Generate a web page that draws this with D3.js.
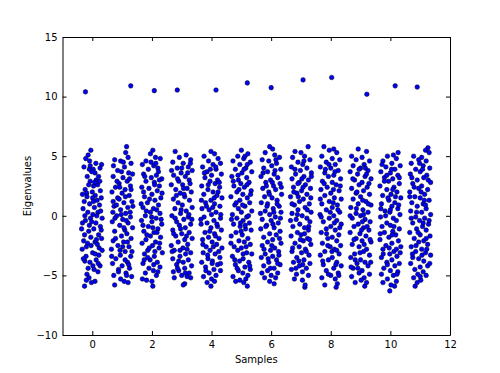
<!DOCTYPE html>
<html>
<head>
<meta charset="utf-8">
<script src="https://cdn.jsdelivr.net/npm/d3@7"></script>
<style>
  body { margin: 0; background: #fff; }
  svg { display: block; font-family: "DejaVu Sans", sans-serif; }
  .axis text { font-size: 10px; fill: #000; }
  .axis path, .axis line { stroke: #000; }
</style>
</head>
<body>
<div class="mainContent"></div>
<script>
const w = 500;
const h = 373;
const margin = {left: 62.5, right: 50, top: 37, bottom: 38};

// sample index of each cluster
const samples = [0, 1, 2, 3, 4, 5, 6, 7, 8, 9, 10, 11];
const xTicks = [0, 2, 4, 6, 8, 10, 12];
const yTicks = [-10, -5, 0, 5, 10, 15];

// the lone large eigenvalue of each sample: [x, value]
const outliers = [[-0.23,10.4],[1.29,10.9],[2.08,10.5],[2.85,10.55],[4.15,10.55],[5.2,11.15],
  [6.0,10.75],[7.07,11.4],[8.03,11.6],[9.21,10.2],[10.16,10.9],[10.9,10.8]];

// bulk eigenvalues per sample: [offset from sample index, value]
const s0 = [[-0.05,5.5],[-0.14,5.1],[-0.22,4.8],[-0.09,4.6],[-0.28,4.1],[0.31,4.3],[0.26,4.0],[0.03,3.9],[0.09,3.6],[-0.17,3.3],[-0.02,3.7],[0.13,3.0],[0.21,3.3],[-0.07,2.9],[0.18,2.6],[0.04,2.5],[-0.24,2.2],[-0.12,2.6],[-0.33,1.8],[-0.19,1.9],[0.27,2.1],[0.1,1.7],[0.16,1.3],[0.01,1.5],[-0.27,1.2],[0.24,0.9],[-0.09,1.0],[0.07,0.7],[-0.31,0.6],[-0.15,0.3],[0.19,0.3],[0.33,-0.2],[0.02,0.1],[-0.06,-0.2],[0.12,-0.6],[-0.23,-0.4],[0.27,-0.9],[-0.36,-1.1],[-0.12,-1.3],[0.05,-1.1],[0.21,-1.6],[0.31,-1.9],[-0.26,-1.6],[0.09,-2.2],[-0.04,-2.5],[0.23,-2.7],[-0.16,-2.3],[0.33,-2.9],[-0.34,-2.8],[0.01,-3.1],[-0.21,-3.4],[0.13,-3.7],[-0.08,-3.9],[0.26,-4.2],[-0.25,-3.8],[0.06,-4.5],[0.19,-4.7],[-0.18,-4.9],[-0.11,-5.2],[-0.26,-5.9],[0.09,-5.5],[-0.03,-5.6],[-0.2,-5.4],[0.14,-2.0],[-0.1,-0.8],[0.28,0.4],[-0.29,-2.1],[0.0,2.0],[0.22,-3.3],[-0.14,-4.4],[0.3,-1.2],[-0.02,-0.5],[0.15,0.0],[-0.25,0.0],[0.08,2.8],[-0.1,3.9],[0.2,-4.0],[0.1,-3.2],[-0.3,-3.6],[0.04,1.2],[-0.18,1.6],[0.25,2.9],[-0.05,-1.8],[0.17,-2.4],[-0.33,-0.6],[0.02,-4.2],[-0.07,4.2],[0.12,4.4],[-0.2,-2.6],[0.3,1.5]];
const s1 = [[0.15,5.8],[0.12,5.3],[0.2,4.9],[-0.25,4.7],[-0.05,4.6],[0.3,4.4],[0.08,4.1],[-0.15,3.8],[0.22,3.6],[0.35,3.5],[-0.3,3.3],[0.03,3.2],[0.17,2.9],[-0.1,2.7],[0.28,2.5],[-0.22,2.4],[0.1,2.2],[-0.34,2.0],[0.0,1.9],[0.24,1.7],[-0.15,1.5],[0.33,1.2],[0.06,1.1],[-0.27,0.8],[0.19,0.7],[-0.05,0.5],[-0.31,0.3],[0.12,0.2],[0.28,-0.1],[-0.18,0.0],[0.02,-0.3],[-0.33,-0.5],[0.2,-0.6],[-0.08,-0.8],[0.35,-1.0],[0.09,-1.2],[-0.25,-1.3],[0.16,-1.5],[-0.02,-1.7],[0.3,-1.9],[-0.3,-2.1],[0.05,-2.2],[-0.14,-2.5],[0.23,-2.6],[-0.36,-2.8],[0.1,-3.0],[-0.06,-3.3],[0.29,-3.4],[-0.21,-3.6],[0.18,-3.9],[-0.32,-4.0],[0.0,-4.2],[0.25,-4.4],[-0.12,-4.5],[0.13,-4.8],[-0.28,-5.0],[0.32,-5.1],[-0.05,-5.3],[0.2,-5.6],[-0.25,-5.8],[0.07,-5.5],[-0.17,2.9],[0.27,0.3],[-0.02,3.7],[0.14,-0.4],[-0.22,-1.9],[0.33,-3.0],[-0.1,1.4],[0.04,4.5],[0.22,-4.1],[-0.35,-3.4],[0.11,1.6],[-0.07,-2.9],[0.3,2.2],[-0.19,0.9],[0.06,-1.0],[-0.29,4.2],[0.18,-2.2],[-0.12,-4.7],[0.25,3.1],[-0.03,0.1],[0.1,-3.7],[-0.24,-0.2],[0.36,0.8],[-0.08,2.4],[0.15,-5.0],[-0.3,1.2],[0.02,-2.6]];
const s2 = [[0.03,5.5],[-0.05,5.2],[0.12,4.9],[-0.2,4.6],[0.28,4.8],[-0.32,4.3],[0.06,4.2],[0.2,4.0],[-0.12,3.9],[-0.28,3.5],[0.15,3.4],[0.33,3.1],[-0.02,3.2],[-0.2,2.9],[0.08,2.8],[0.25,2.5],[-0.34,2.4],[-0.1,2.3],[0.18,2.1],[0.0,1.8],[-0.25,1.6],[0.3,1.5],[0.1,1.3],[-0.15,1.1],[0.22,0.9],[-0.3,0.7],[0.05,0.6],[-0.05,0.3],[0.27,0.2],[-0.22,0.0],[0.14,-0.2],[-0.35,-0.4],[0.0,-0.5],[0.33,-0.7],[-0.12,-0.9],[0.2,-1.1],[-0.27,-1.3],[0.07,-1.4],[-0.05,-1.7],[0.29,-1.8],[-0.2,-2.0],[0.12,-2.2],[-0.33,-2.3],[0.02,-2.5],[0.24,-2.7],[-0.14,-2.9],[0.35,-3.1],[-0.25,-3.2],[0.08,-3.4],[-0.06,-3.7],[0.18,-3.9],[-0.3,-4.0],[0.27,-4.3],[-0.1,-4.4],[0.05,-4.6],[-0.22,-4.8],[0.15,-5.0],[-0.32,-5.3],[0.0,-5.5],[-0.18,-5.4],[0.03,-5.9],[0.22,3.7],[-0.08,1.4],[0.31,-0.3],[-0.17,-1.6],[0.1,-3.0],[-0.28,2.0],[0.16,0.5],[-0.03,4.5],[0.26,-2.3],[-0.36,1.0],[0.09,2.6],[-0.14,-3.5],[0.2,-4.7],[-0.24,3.3],[0.03,-1.0],[0.34,1.9],[-0.09,-2.7],[0.13,4.4],[-0.3,-0.8],[0.06,-4.1],[-0.19,0.4],[0.25,3.0],[-0.01,-0.1],[0.17,-1.4],[-0.26,-3.7]];
const s3 = [[-0.22,5.4],[0.15,5.1],[-0.08,4.9],[0.3,4.7],[-0.3,4.5],[0.05,4.4],[0.22,4.1],[-0.15,4.0],[0.35,3.8],[-0.02,3.6],[-0.27,3.4],[0.12,3.3],[0.25,3.0],[-0.1,2.9],[-0.35,2.6],[0.03,2.6],[0.18,2.3],[-0.2,2.2],[0.32,2.0],[-0.05,1.9],[0.1,1.6],[-0.28,1.4],[0.26,1.3],[-0.12,1.1],[0.02,0.9],[0.35,0.7],[-0.23,0.6],[0.15,0.4],[-0.04,0.2],[-0.33,0.0],[0.22,-0.1],[0.07,-0.3],[-0.17,-0.5],[0.3,-0.7],[-0.08,-0.8],[0.12,-1.0],[-0.3,-1.2],[0.25,-1.4],[0.0,-1.5],[-0.2,-1.7],[0.35,-1.9],[0.1,-2.0],[-0.12,-2.2],[0.2,-2.4],[-0.35,-2.5],[0.04,-2.7],[-0.25,-2.9],[0.3,-3.1],[0.13,-3.2],[-0.06,-3.4],[-0.3,-3.6],[0.22,-3.7],[0.05,-3.9],[-0.17,-4.1],[0.33,-4.2],[0.1,-4.4],[-0.1,-4.6],[0.25,-4.8],[-0.28,-4.7],[0.0,-5.0],[0.18,-5.1],[0.3,-5.2],[0.1,-5.7],[-0.25,-5.2],[0.05,-5.8],[-0.14,3.1],[0.28,2.7],[-0.02,0.5],[0.16,-1.7],[-0.22,-0.2],[0.08,1.8],[-0.32,-3.0],[0.2,3.6],[-0.06,-2.9],[0.34,-0.3],[-0.18,1.7],[0.12,-4.8],[0.0,4.0],[-0.27,-1.5],[0.24,0.1],[-0.1,-3.8],[0.06,2.3],[-0.34,3.8],[0.18,-2.8],[-0.04,-1.1],[0.29,4.4],[-0.14,-4.4]];
const s4 = [[-0.02,5.4],[0.1,5.2],[-0.25,5.0],[0.22,4.8],[-0.1,4.6],[0.3,4.4],[0.05,4.3],[-0.3,4.1],[0.15,3.9],[-0.15,3.7],[0.33,3.5],[0.0,3.4],[-0.22,3.2],[0.2,3.0],[-0.05,2.9],[0.12,2.7],[-0.33,2.5],[0.27,2.4],[-0.12,2.2],[0.05,2.0],[-0.26,1.8],[0.18,1.7],[0.35,1.5],[-0.02,1.3],[-0.2,1.1],[0.1,1.0],[0.28,0.8],[-0.32,0.6],[-0.08,0.5],[0.15,0.3],[0.0,0.1],[-0.25,-0.1],[0.3,-0.2],[0.08,-0.4],[-0.15,-0.6],[-0.35,-0.7],[0.2,-0.9],[-0.02,-1.0],[0.33,-1.2],[-0.22,-1.4],[0.1,-1.5],[-0.1,-1.8],[0.25,-1.9],[-0.3,-2.0],[0.02,-2.2],[0.17,-2.4],[-0.18,-2.6],[0.35,-2.7],[-0.05,-2.9],[-0.28,-3.1],[0.12,-3.2],[0.28,-3.5],[-0.12,-3.6],[0.03,-3.8],[-0.33,-3.9],[0.2,-4.1],[-0.2,-4.3],[0.08,-4.5],[0.3,-4.6],[-0.08,-4.8],[0.15,-5.0],[-0.27,-5.1],[0.0,-5.3],[-0.15,-5.6],[0.1,-5.5],[-0.02,-5.9],[0.22,2.0],[-0.17,0.8],[0.06,-2.6],[-0.24,3.6],[0.31,0.1],[-0.06,-1.3],[0.14,4.1],[-0.34,1.3],[0.24,-3.0],[-0.11,2.6],[0.02,-4.0],[0.18,-0.7],[-0.29,-2.4],[0.09,1.5],[-0.04,3.9],[0.26,2.8],[-0.19,-4.6],[0.13,-1.7],[-0.36,-0.3],[0.04,0.7],[0.3,-4.0],[-0.13,-3.3]];
const s5 = [[0.0,5.5],[0.22,5.2],[-0.12,5.0],[0.08,4.8],[-0.28,4.6],[0.3,4.5],[-0.05,4.3],[0.15,4.0],[-0.2,3.9],[0.35,3.7],[0.02,3.6],[-0.32,3.3],[0.18,3.2],[-0.1,3.0],[0.26,2.8],[-0.02,2.7],[-0.25,2.5],[0.1,2.4],[0.33,2.1],[-0.15,2.0],[0.05,1.8],[-0.35,1.6],[0.2,1.5],[-0.05,1.3],[0.28,1.1],[-0.22,0.9],[0.12,0.8],[-0.1,0.6],[0.35,0.4],[0.0,0.3],[-0.3,0.1],[0.18,-0.1],[-0.15,-0.2],[0.06,-0.4],[0.27,-0.6],[-0.26,-0.7],[-0.04,-0.9],[0.14,-1.1],[0.33,-1.2],[-0.18,-1.4],[0.03,-1.6],[-0.34,-1.7],[0.22,-1.9],[-0.08,-2.1],[0.1,-2.2],[0.3,-2.4],[-0.24,-2.6],[0.0,-2.7],[-0.12,-2.9],[0.18,-3.1],[0.35,-3.2],[-0.3,-3.4],[0.06,-3.6],[-0.06,-3.8],[0.25,-3.9],[-0.2,-4.1],[0.12,-4.3],[0.3,-4.5],[-0.1,-4.6],[0.05,-4.8],[0.22,-5.0],[-0.28,-5.1],[0.15,-5.3],[-0.05,-5.4],[0.2,-5.9],[0.08,-5.6],[-0.17,1.1],[0.24,0.0],[-0.08,2.2],[0.16,-2.6],[-0.33,-0.3],[0.09,3.9],[-0.22,-3.7],[0.31,1.8],[-0.01,-1.3],[0.2,4.3],[-0.14,-4.4],[0.04,0.9],[-0.27,2.9],[0.13,-0.8],[0.28,-4.2],[-0.11,3.4],[0.06,-3.2],[-0.35,-2.3],[0.19,2.6],[-0.03,-0.6],[0.12,5.0],[-0.19,-5.5]];
const s6 = [[-0.05,5.8],[0.05,5.6],[-0.2,5.3],[0.12,5.1],[0.28,4.9],[-0.3,4.7],[-0.08,4.6],[0.18,4.4],[0.02,4.2],[-0.25,4.0],[0.32,3.9],[-0.12,3.7],[0.1,3.5],[-0.34,3.3],[0.22,3.2],[-0.02,3.0],[-0.18,2.8],[0.3,2.7],[0.08,2.5],[-0.28,2.3],[0.15,2.2],[-0.08,2.0],[0.35,1.8],[-0.22,1.6],[0.03,1.5],[0.2,1.3],[-0.33,1.1],[-0.12,1.0],[0.27,0.8],[0.07,0.6],[-0.2,0.4],[0.33,0.3],[-0.05,0.1],[0.14,-0.1],[-0.3,-0.3],[0.0,-0.4],[0.24,-0.6],[-0.15,-0.8],[0.1,-1.0],[-0.35,-1.1],[0.3,-1.3],[-0.05,-1.5],[0.17,-1.6],[-0.25,-1.8],[0.05,-2.0],[-0.12,-2.2],[0.33,-2.3],[-0.3,-2.5],[0.12,-2.7],[-0.02,-2.9],[0.25,-3.0],[-0.2,-3.2],[0.05,-3.4],[-0.33,-3.5],[0.18,-3.7],[-0.08,-3.9],[0.3,-4.1],[-0.25,-4.2],[0.1,-4.4],[-0.12,-4.6],[0.22,-4.8],[0.0,-5.0],[-0.22,-5.2],[0.15,-5.2],[0.1,-5.7],[-0.05,-5.5],[0.2,1.0],[-0.16,2.5],[0.06,-0.7],[-0.27,3.6],[0.28,-1.9],[-0.1,-3.6],[0.13,3.8],[-0.36,0.2],[0.02,-2.5],[0.22,-4.0],[-0.06,1.8],[0.34,2.4],[-0.18,-0.9],[0.09,0.3],[-0.24,-2.8],[0.16,4.7],[-0.03,-4.4],[0.26,-3.3],[-0.31,-4.8],[0.04,2.8],[-0.14,0.8],[0.31,-0.2]];
const s7 = [[0.24,5.8],[-0.2,5.4],[0.0,5.3],[0.12,5.0],[-0.28,4.9],[0.3,4.7],[-0.1,4.5],[0.06,4.3],[-0.32,4.1],[0.2,4.0],[-0.02,3.8],[0.35,3.6],[-0.18,3.5],[0.1,3.3],[-0.3,3.1],[0.25,3.0],[-0.06,2.8],[0.15,2.6],[-0.25,2.4],[0.32,2.3],[0.02,2.1],[-0.14,1.9],[0.2,1.8],[-0.35,1.6],[0.08,1.4],[-0.05,1.2],[0.28,1.0],[-0.22,0.9],[0.14,0.7],[-0.1,0.5],[0.34,0.3],[-0.3,0.2],[0.04,0.0],[0.2,-0.2],[-0.16,-0.3],[0.3,-0.5],[-0.04,-0.7],[-0.27,-0.9],[0.12,-1.0],[0.25,-1.2],[-0.12,-1.4],[0.0,-1.6],[-0.33,-1.7],[0.22,-1.9],[0.08,-2.1],[-0.2,-2.3],[0.33,-2.4],[-0.06,-2.6],[0.15,-2.8],[-0.3,-3.0],[0.02,-3.1],[0.27,-3.3],[-0.14,-3.5],[0.1,-3.7],[-0.25,-3.9],[0.3,-4.0],[-0.05,-4.2],[0.18,-4.4],[-0.32,-4.5],[0.05,-4.7],[-0.15,-4.9],[0.25,-5.0],[-0.22,-5.3],[0.05,-5.4],[0.13,-6.0],[0.14,-5.8],[-0.09,1.6],[0.26,-0.9],[-0.2,3.9],[0.07,2.4],[-0.35,-0.4],[0.18,-3.0],[-0.02,-2.0],[0.33,1.5],[-0.12,0.1],[0.1,4.6],[-0.28,-2.7],[0.21,0.5],[-0.07,-3.8],[0.03,3.1],[-0.24,2.0],[0.29,-2.0],[-0.17,-4.4],[0.12,-1.5],[-0.3,1.0],[0.06,-4.1],[0.35,3.3],[-0.1,2.7]];
const s8 = [[-0.23,5.8],[0.1,5.6],[-0.05,5.5],[0.2,5.3],[-0.3,5.0],[0.05,4.8],[0.3,4.7],[-0.15,4.5],[0.15,4.3],[-0.35,4.1],[0.0,4.0],[0.25,3.8],[-0.2,3.6],[0.1,3.4],[-0.08,3.3],[0.33,3.1],[-0.28,2.9],[0.05,2.8],[0.18,2.6],[-0.12,2.4],[-0.33,2.2],[0.28,2.1],[0.0,1.9],[-0.2,1.7],[0.12,1.5],[0.35,1.4],[-0.05,1.2],[-0.3,1.0],[0.22,0.9],[0.05,0.7],[-0.15,0.5],[0.3,0.3],[-0.36,0.1],[0.1,0.0],[-0.05,-0.2],[0.2,-0.4],[-0.25,-0.5],[0.35,-0.7],[0.0,-0.9],[-0.15,-1.1],[0.15,-1.2],[-0.32,-1.4],[0.27,-1.6],[0.05,-1.8],[-0.1,-1.9],[0.2,-2.1],[-0.28,-2.3],[0.33,-2.5],[-0.02,-2.6],[0.12,-2.8],[-0.2,-3.0],[0.28,-3.2],[-0.35,-3.3],[0.05,-3.5],[-0.08,-3.7],[0.2,-3.9],[-0.25,-4.1],[0.35,-4.2],[0.1,-4.4],[-0.15,-4.6],[0.25,-4.8],[0.0,-5.0],[-0.3,-5.2],[0.15,-5.3],[0.22,-5.7],[-0.2,-5.8],[0.18,-6.0],[0.08,1.1],[-0.22,2.7],[0.3,-1.0],[-0.1,-2.5],[0.14,3.7],[-0.32,-0.1],[0.04,-3.0],[0.24,0.5],[-0.06,4.3],[0.17,-4.1],[-0.27,-3.8],[0.09,2.2],[-0.14,-1.5],[0.32,2.5],[-0.02,0.3],[0.2,-2.9],[-0.35,1.4],[0.12,-0.6],[-0.18,3.9],[0.27,-5.0],[-0.08,-4.9]];
const s9 = [[-0.08,5.6],[0.2,5.4],[-0.3,5.0],[0.05,4.9],[-0.15,4.7],[0.3,4.6],[0.12,4.3],[-0.25,4.2],[0.0,4.0],[0.25,3.8],[-0.35,3.7],[-0.1,3.5],[0.15,3.3],[0.35,3.1],[-0.2,3.0],[0.05,2.8],[-0.05,2.6],[0.22,2.4],[-0.3,2.3],[0.1,2.1],[-0.15,1.9],[0.3,1.8],[0.0,1.6],[-0.25,1.4],[0.18,1.2],[-0.08,1.0],[0.35,0.9],[-0.33,0.7],[0.08,0.5],[0.25,0.3],[-0.15,0.2],[0.0,0.0],[-0.28,-0.2],[0.15,-0.3],[0.32,-0.5],[-0.08,-0.7],[-0.22,-0.9],[0.1,-1.0],[0.28,-1.2],[-0.35,-1.4],[-0.02,-1.5],[0.18,-1.7],[-0.15,-1.9],[0.05,-2.1],[0.35,-2.2],[-0.28,-2.4],[-0.05,-2.6],[0.2,-2.8],[0.1,-3.0],[-0.2,-3.2],[0.3,-3.3],[-0.33,-3.5],[0.0,-3.7],[0.15,-3.9],[-0.12,-4.0],[0.25,-4.2],[-0.25,-4.4],[0.05,-4.6],[-0.05,-4.8],[0.3,-4.9],[-0.3,-5.1],[0.12,-5.2],[0.02,-5.4],[-0.18,-5.6],[0.14,-5.9],[0.2,-5.6],[-0.12,2.0],[0.26,1.0],[-0.05,3.9],[0.12,-2.4],[-0.35,0.0],[0.22,-0.9],[-0.18,-3.7],[0.07,1.3],[0.34,-3.9],[-0.26,3.1],[0.03,-1.2],[0.16,4.0],[-0.09,-4.4],[0.28,2.7],[-0.22,-2.0],[0.1,0.1],[-0.02,-3.1],[0.2,3.5],[-0.32,-4.3],[0.06,-0.5],[0.32,-2.0],[-0.14,0.6]];
const s10 = [[0.26,5.3],[0.1,5.1],[-0.1,5.0],[0.2,4.8],[-0.25,4.6],[0.05,4.4],[0.33,4.2],[-0.15,4.1],[0.15,3.9],[-0.32,3.7],[0.0,3.6],[0.25,3.4],[-0.2,3.2],[0.08,3.1],[-0.06,2.9],[0.3,2.7],[-0.35,2.5],[0.12,2.4],[-0.12,2.2],[0.22,2.0],[0.02,1.8],[-0.26,1.7],[0.35,1.5],[-0.05,1.3],[0.15,1.1],[-0.3,1.0],[0.05,0.8],[0.25,0.6],[-0.18,0.4],[-0.02,0.3],[0.32,0.1],[-0.33,-0.1],[0.1,-0.2],[0.2,-0.4],[-0.12,-0.6],[0.0,-0.8],[-0.28,-0.9],[0.3,-1.1],[0.08,-1.3],[-0.2,-1.4],[0.18,-1.6],[-0.05,-1.8],[-0.35,-2.0],[0.27,-2.1],[0.05,-2.3],[-0.15,-2.5],[0.35,-2.6],[-0.25,-2.8],[0.12,-3.0],[-0.02,-3.2],[0.22,-3.4],[-0.3,-3.5],[0.05,-3.7],[-0.12,-3.9],[0.3,-4.0],[0.15,-4.2],[-0.22,-4.4],[0.0,-4.6],[0.25,-4.7],[-0.3,-4.9],[0.1,-5.0],[-0.1,-5.3],[0.2,-5.5],[-0.25,-5.6],[0.02,-5.8],[-0.02,-6.3],[0.14,-5.9],[-0.08,1.5],[0.28,0.9],[-0.2,2.9],[0.12,-0.9],[-0.34,-1.5],[0.04,3.9],[0.2,-2.8],[-0.1,-4.1],[0.33,-3.1],[-0.16,0.0],[0.08,2.2],[-0.28,4.3],[0.17,1.6],[-0.04,-2.7],[0.3,3.2],[-0.24,-3.2],[0.06,-1.6],[-0.12,3.4],[0.22,-4.9],[-0.32,0.6],[0.0,0.5]];
const s11 = [[0.26,5.7],[0.18,5.5],[0.3,5.3],[-0.22,5.0],[0.05,4.9],[-0.05,4.7],[0.2,4.6],[-0.3,4.4],[0.1,4.2],[0.32,4.0],[-0.15,3.9],[0.0,3.7],[-0.33,3.5],[0.22,3.4],[0.12,3.2],[-0.1,3.0],[0.35,2.8],[-0.25,2.7],[0.05,2.5],[-0.05,2.3],[0.25,2.2],[-0.35,2.0],[0.15,1.8],[-0.18,1.6],[0.0,1.5],[0.3,1.3],[-0.28,1.1],[0.1,1.0],[-0.1,0.8],[0.2,0.6],[-0.32,0.4],[0.05,0.3],[0.35,0.1],[-0.15,-0.1],[0.15,-0.2],[-0.02,-0.4],[-0.25,-0.6],[0.28,-0.7],[0.08,-0.9],[-0.12,-1.1],[0.2,-1.2],[-0.35,-1.4],[0.0,-1.6],[0.33,-1.7],[-0.2,-1.9],[0.12,-2.1],[-0.05,-2.2],[0.25,-2.4],[-0.3,-2.6],[0.05,-2.8],[-0.15,-3.0],[0.18,-3.1],[0.35,-3.3],[-0.25,-3.5],[-0.05,-3.6],[0.12,-3.8],[-0.32,-4.0],[0.25,-4.2],[0.0,-4.3],[-0.18,-4.5],[0.1,-4.7],[-0.08,-4.9],[0.2,-5.0],[-0.22,-5.2],[0.02,-5.4],[-0.17,-5.9],[-0.1,-5.6],[0.14,1.3],[-0.2,2.4],[0.3,-0.4],[-0.07,-1.4],[0.08,3.9],[-0.3,-0.2],[0.22,-2.8],[-0.12,0.3],[0.03,2.0],[0.32,-4.0],[-0.26,-3.2],[0.1,-0.6],[-0.02,4.4],[0.18,0.9],[-0.35,1.6],[0.06,-3.3],[0.27,3.0],[-0.14,-2.5],[0.0,-5.1],[-0.28,3.2],[0.2,-1.9]];
const bulk = [s0, s1, s2, s3, s4, s5, s6, s7, s8, s9, s10, s11];

function drawChart() {
    const xScale = d3.scaleLinear()
        .domain([-1, 12])
        .range([margin.left, w - margin.right]);
    const yScale = d3.scaleLinear()
        .domain([-10, 15])
        .range([h - margin.bottom, margin.top]);

    const svg = d3.select('.mainContent')
        .append('svg')
        .attr('width', w)
        .attr('height', h);

    svg.append('rect')
        .attr('width', w)
        .attr('height', h)
        .attr('fill', '#fff');

    // flatten per-sample arrays into points
    const points = [];
    samples.forEach((s, i) => {
        bulk[i].forEach(d => points.push({x: s + d[0], y: d[1]}));
    });
    outliers.forEach(d => points.push({x: d[0], y: d[1]}));

    svg.append('g')
        .selectAll('circle')
        .data(points)
        .enter()
        .append('circle')
        .attr('cx', d => xScale(d.x))
        .attr('cy', d => yScale(d.y))
        .attr('r', 2.3)
        .attr('fill', '#0000ff')
        .attr('stroke', '#000')
        .attr('stroke-width', 0.5);

    const x0 = h - margin.bottom;
    const y0 = margin.left;

    // ticks point inward like matplotlib classic
    svg.append('g')
        .attr('class', 'axis')
        .attr('transform', `translate(0,${x0})`)
        .call(d3.axisBottom(xScale).tickValues(xTicks).tickSize(-4).tickSizeOuter(0).tickPadding(6));
    svg.append('g')
        .attr('class', 'axis')
        .attr('transform', `translate(0,${margin.top})`)
        .call(d3.axisTop(xScale).tickValues(xTicks).tickSize(-4).tickSizeOuter(0).tickFormat(''));
    svg.append('g')
        .attr('class', 'axis')
        .attr('transform', `translate(${y0},0)`)
        .call(d3.axisLeft(yScale).tickValues(yTicks).tickSize(-4).tickSizeOuter(0).tickPadding(5));
    svg.append('g')
        .attr('class', 'axis')
        .attr('transform', `translate(${w - margin.right},0)`)
        .call(d3.axisRight(yScale).tickValues(yTicks).tickSize(-4).tickSizeOuter(0).tickFormat(''));

    svg.selectAll('.axis text').attr('font-family', '"DejaVu Sans", sans-serif');

    svg.append('text')
        .attr('x', (margin.left + w - margin.right) / 2)
        .attr('y', 362.5)
        .attr('text-anchor', 'middle')
        .attr('font-size', 10)
        .text('Samples');

    svg.append('text')
        .attr('transform', `translate(30.5,${(margin.top + h - margin.bottom) / 2}) rotate(-90)`)
        .attr('text-anchor', 'middle')
        .attr('font-size', 10)
        .text('Eigenvalues');
}

drawChart();
</script>
</body>
</html>
